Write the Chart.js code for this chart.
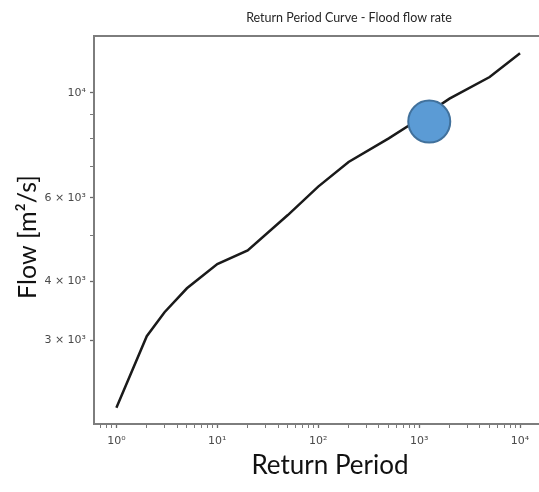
<!DOCTYPE html>
<html>
<head>
<meta charset="utf-8">
<script src="https://cdn.jsdelivr.net/npm/chart.js@4.4.1/dist/chart.umd.min.js"></script>
<style>
  html, body { margin: 0; padding: 0; background: #fff; overflow: hidden; }
  canvas { display: block; }
</style>
</head>
<body>
<canvas id="chart" width="539" height="492"></canvas>
<script>
// Flood flow rate vs return period
const returnPeriods = [1, 2, 3, 5, 10, 20, 50, 100, 200, 500, 1000, 2000, 5000, 10000];
const flowRates = [2160, 3060, 3440, 3865, 4350, 4645, 5520, 6340, 7150, 8020, 8810, 9730, 10810, 12130];

// highlighted design point (blue circle)
const markPeriod = [1260];
const markFlow = [8700];

// axis ticks
const xMajorTicks = [1, 10, 100, 1000, 10000];
const xTickLabels = ['10⁰', '10¹', '10²', '10³', '10⁴'];
const yTicks = [3000, 4000, 5000, 6000, 7000, 8000, 9000, 10000];
const yLabelTicks = [3000, 4000, 6000, 10000];
const yTickLabels = ['3 × 10³', '4 × 10³', '6 × 10³', '10⁴'];

const chartTitle = 'Return Period Curve - Flood flow rate';
const xTitle = 'Return Period';
const yTitle = 'Flow [m²/s]';

// minor ticks 2..9 in every decade that is visible
function minorTicks(lo, hi) {
    const out = [];
    for (let d = 0.1; d <= hi; d *= 10) {
        for (let m = 2; m <= 9; m++) {
            const v = Math.round(m * d * 1000) / 1000;
            if (v >= lo && v <= hi) out.push(v);
        }
    }
    return out;
}

const xMin = Math.pow(10, -0.207);
const xMax = Math.pow(10, 4.188);
const xAllTicks = xMajorTicks.concat(minorTicks(xMin, xMax)).sort((a, b) => a - b);

// frame top line plus the free text labels
const frameAndText = {
    id: 'frameAndText',
    afterDraw(chart) {
        const ctx = chart.ctx;
        const a = chart.chartArea;
        ctx.save();
        ctx.strokeStyle = '#7d7d7d';
        ctx.lineWidth = 2;
        ctx.beginPath();
        ctx.moveTo(a.left - 1, a.top);
        ctx.lineTo(a.right, a.top);
        ctx.stroke();

        ctx.fillStyle = '#262626';
        ctx.textAlign = 'center';
        ctx.textBaseline = 'middle';
        ctx.font = '12.5px Lato';
        ctx.fillText(chartTitle, 349, 18);
        ctx.fillStyle = '#111';
        ctx.font = '26px Lato';
        ctx.fillText(xTitle, 330, 466);
        ctx.translate(28, 237);
        ctx.rotate(-Math.PI / 2);
        ctx.font = '25px Lato';
        ctx.fillText(yTitle, 0, 0);
        ctx.restore();
    }
};

new Chart(document.getElementById('chart').getContext('2d'), {
    type: 'line',
    data: {
        datasets: [{
            label: 'Design point',
            data: markPeriod.map((p, i) => ({ x: p, y: markFlow[i] })),
            showLine: false,
            pointRadius: 21,
            pointBackgroundColor: '#5b9bd5',
            pointBorderColor: '#41719c',
            pointBorderWidth: 2,
            order: 0
        }, {
            label: 'Flow',
            data: returnPeriods.map((p, i) => ({ x: p, y: flowRates[i] })),
            borderColor: '#1a1a1a',
            borderWidth: 2.5,
            pointRadius: 0,
            tension: 0,
            fill: false,
            order: 1
        }]
    },
    options: {
        responsive: false,
        animation: false,
        layout: { autoPadding: false, padding: { top: 36, right: 0, left: 0, bottom: 0 } },
        plugins: { legend: { display: false }, tooltip: { enabled: false }, title: { display: false } },
        scales: {
            x: {
                type: 'logarithmic',
                min: xMin,
                max: xMax,
                afterBuildTicks: (scale) => { scale.ticks = xAllTicks.map(v => ({ value: v })); },
                afterFit: (scale) => {
                    scale.height = 68;
                    scale.paddingLeft = 0;
                    scale.paddingRight = 0;
                },
                border: { display: true, color: '#7d7d7d', width: 2 },
                grid: {
                    drawOnChartArea: false,
                    drawTicks: true,
                    tickLength: 4,
                    tickColor: '#6a6a6a',
                    tickWidth: (c) => xMajorTicks.includes(c.tick.value) ? 1.3 : 0.9
                },
                ticks: {
                    autoSkip: false,
                    maxRotation: 0,
                    padding: 7,
                    color: '#4a4a4a',
                    font: { family: 'DejaVu Sans', size: 11 },
                    callback: (v) => {
                        const i = xMajorTicks.indexOf(v);
                        return i >= 0 ? xTickLabels[i] : '';
                    }
                }
            },
            y: {
                type: 'logarithmic',
                min: Math.pow(10, 3.3002),
                max: Math.pow(10, 4.1205),
                afterBuildTicks: (scale) => { scale.ticks = yTicks.map(v => ({ value: v })); },
                afterFit: (scale) => {
                    scale.width = 94;
                    scale.paddingTop = 0;
                    scale.paddingBottom = 0;
                },
                border: { display: true, color: '#7d7d7d', width: 2 },
                grid: {
                    drawOnChartArea: false,
                    drawTicks: true,
                    tickLength: 4,
                    tickColor: '#6a6a6a',
                    tickWidth: (c) => yLabelTicks.includes(c.tick.value) ? 1.3 : 0.9
                },
                ticks: {
                    autoSkip: false,
                    padding: 4,
                    color: '#4a4a4a',
                    font: { family: 'DejaVu Sans', size: 11 },
                    callback: (v) => {
                        const i = yLabelTicks.indexOf(v);
                        return i >= 0 ? yTickLabels[i] : '';
                    }
                }
            }
        }
    },
    plugins: [frameAndText]
});
</script>
</body>
</html>
